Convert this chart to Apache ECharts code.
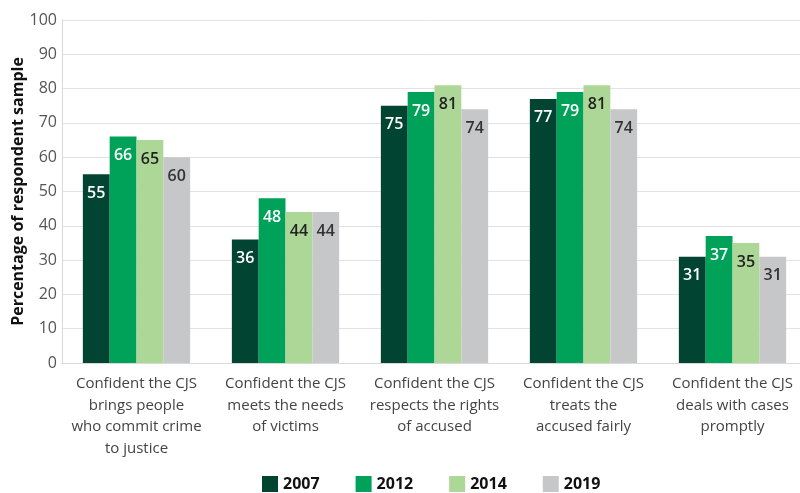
<!DOCTYPE html>
<html>
<head>
<meta charset="utf-8">
<script src="https://cdn.jsdelivr.net/npm/echarts@6/dist/echarts.min.js"></script>
<style>
  html, body { margin: 0; padding: 0; background: #fff; }
  #main { width: 800px; height: 493px; }
</style>
</head>
<body>
<div id="main"></div>
<script>
var categories = [
  'Confident the CJS\nbrings people\nwho commit crime\nto justice',
  'Confident the CJS\nmeets the needs\nof victims',
  'Confident the CJS\nrespects the rights\nof accused',
  'Confident the CJS\ntreats the\naccused fairly',
  'Confident the CJS\ndeals with cases\npromptly'
];
var years = ['2007', '2012', '2014', '2019'];
var v2007 = [55, 36, 75, 77, 31];
var v2012 = [66, 48, 79, 79, 37];
var v2014 = [65, 44, 81, 81, 35];
var v2019 = [60, 44, 74, 74, 31];
var colors = ['#004431', '#00a159', '#acd796', '#c6c7c9'];
var labelColors = ['#ffffff', '#ffffff', '#222222', '#333333'];

var myChart = echarts.init(document.getElementById('main'));

function makeSeries(name, data, i) {
  return {
    name: name,
    type: 'bar',
    data: data,
    barGap: 0,
    barCategoryGap: '28%',
    itemStyle: { color: colors[i] },
    label: {
      show: true,
      position: 'insideTop',
      distance: 11,
      color: labelColors[i],
      fontFamily: 'Open Sans',
      fontSize: 16,
      fontWeight: 600
    }
  };
}

myChart.setOption({
  animation: false,
  textStyle: { fontFamily: 'Open Sans' },
  grid: { left: 62, top: 20, width: 745, height: 343, containLabel: false, outerBoundsMode: 'none' },
  legend: {
    data: years,
    left: 257,
    top: 471,
    icon: 'rect',
    itemWidth: 16,
    itemHeight: 16,
    itemGap: 36,
    textStyle: { color: '#111', fontSize: 16, fontWeight: 'bold', fontFamily: 'Open Sans' }
  },
  xAxis: {
    type: 'category',
    data: categories,
    axisLine: { lineStyle: { color: '#d9d9d9', width: 1 } },
    axisTick: { show: false },
    axisLabel: {
      color: '#444',
      fontSize: 15,
      lineHeight: 21.5,
      margin: 10,
      interval: 0,
      fontFamily: 'Open Sans'
    }
  },
  yAxis: {
    type: 'value',
    min: 0,
    max: 100,
    interval: 10,
    name: 'Percentage of respondent sample',
    nameLocation: 'middle',
    nameGap: 36,
    nameMoveOverlap: false,
    nameTextStyle: { color: '#111', fontSize: 16, fontWeight: 'bold', fontFamily: 'Open Sans' },
    axisLine: { show: true, lineStyle: { color: '#d9d9d9' } },
    axisTick: { show: false },
    axisLabel: { color: '#555', fontSize: 16, margin: 5, fontFamily: 'Open Sans' },
    splitLine: { lineStyle: { color: '#e3e3e3' } }
  },
  series: [
    makeSeries(years[0], v2007, 0),
    makeSeries(years[1], v2012, 1),
    makeSeries(years[2], v2014, 2),
    makeSeries(years[3], v2019, 3)
  ]
});
</script>
</body>
</html>
